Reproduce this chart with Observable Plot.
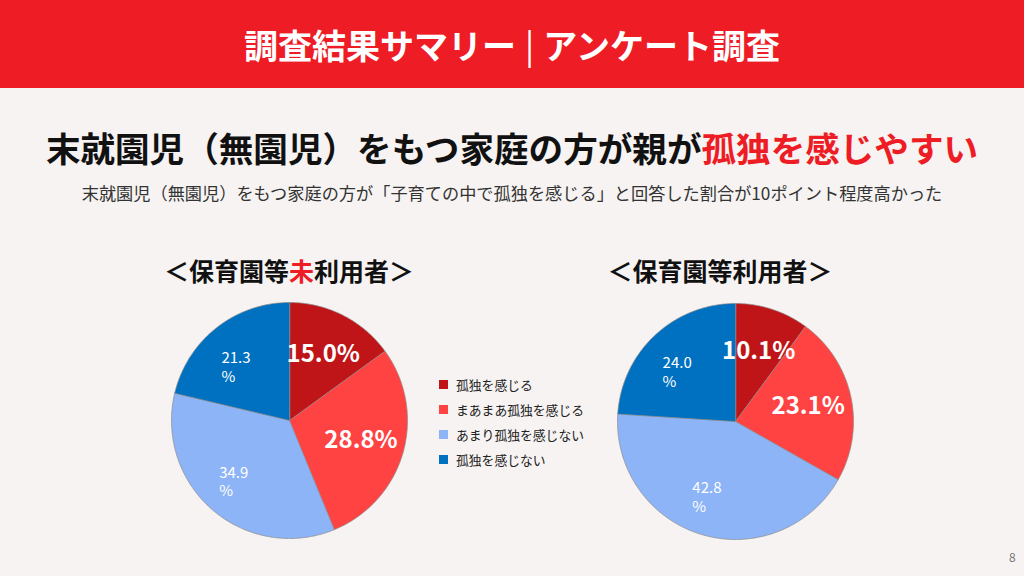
<!DOCTYPE html>
<html lang="ja">
<head>
<meta charset="utf-8">
<script src="https://cdn.jsdelivr.net/npm/d3@7"></script>
<script src="https://cdn.jsdelivr.net/npm/@observablehq/plot@0.6"></script>
<style>
  html, body { margin: 0; padding: 0; }
  body { width: 1024px; height: 576px; background: #F6F3F2; position: relative; overflow: hidden;
         font-family: "Noto Sans CJK JP", "Noto Sans", sans-serif; }
  #header { position: absolute; left: 0; top: 0; width: 1024px; height: 88px; background: #EE1C25;
            color: #fff; font-weight: bold; font-size: 34px; display: flex; align-items: center; justify-content: center; }
  #header .bar { font-weight: normal; margin: 0 9px; }
  #title { position: absolute; left: 0; top: 124px; width: 1024px; text-align: center; font-weight: bold;
           font-size: 34.6px; color: #111; line-height: 46px; }
  #title .red { color: #EE1C25; }
  #subtitle { position: absolute; left: 0; top: 181px; width: 1024px; text-align: center; font-size: 17.2px; color: #333; line-height: 24px; }
  .ptitle { position: absolute; top: 252px; font-weight: bold; font-size: 25px; color: #111; line-height: 36px; text-align: center; width: 320px; }
  .ptitle .red { color: #EE1C25; }
  .pie { position: absolute; }
  #legend { position: absolute; left: 439px; top: 372px; font-size: 12.8px; color: #222; }
  #legend .row { height: 25px; display: flex; align-items: center; }
  #legend .sw { width: 9px; height: 9px; margin-right: 8px; }
  #page { position: absolute; left: 1009px; top: 548px; font-size: 12px; color: #777; }
</style>
</head>
<body>
<div id="header">調査結果サマリー<span class="bar">|</span>アンケート調査</div>
<div id="title">末就園児（無園児）をもつ家庭の方が親が<span class="red">孤独を感じやすい</span></div>
<div id="subtitle">末就園児（無園児）をもつ家庭の方が「子育ての中で孤独を感じる」と回答した割合が10ポイント程度高かった</div>
<div class="ptitle" style="left:129px">＜保育園等<span class="red">未</span>利用者＞</div>
<div class="ptitle" style="left:560px">＜保育園等利用者＞</div>
<div id="pieL" class="pie" style="left:169px; top:300px"></div>
<div id="pieR" class="pie" style="left:615px; top:301px"></div>
<div id="legend"></div>
<div id="page">8</div>
<script>
const categories = ["孤独を感じる", "まあまあ孤独を感じる", "あまり孤独を感じない", "孤独を感じない"];
const unusedValues = [15.0, 28.8, 34.9, 21.3];
const usedValues = [10.1, 23.1, 42.8, 24.0];
const colors = ["#BF1518", "#FF4343", "#8DB4F6", "#0070C0"];

function pieData(values) {
  const arcs = d3.pie().sort(null).value(d => d)(values);
  const rows = [];
  const labels = [];
  arcs.forEach((a, i) => {
    const cat = categories[i];
    rows.push({cat, x: 0, y: 0});
    const n = Math.max(2, Math.ceil((a.endAngle - a.startAngle) / 0.01));
    for (let j = 0; j <= n; j++) {
      const t = a.startAngle + (a.endAngle - a.startAngle) * j / n;
      rows.push({cat, x: Math.sin(t), y: Math.cos(t)});
    }
    const mid = (a.startAngle + a.endAngle) / 2;
    labels.push({cat, i, x: 0.63 * Math.sin(mid), y: 0.63 * Math.cos(mid), value: values[i]});
  });
  return {rows, labels};
}

function drawPie(values) {
  const {rows, labels} = pieData(values);
  const big = labels.filter(d => d.i < 2);
  const small = labels.filter(d => d.i >= 2);
  return Plot.plot({
    width: 240, height: 240, margin: 2,
    x: {domain: [-1, 1], axis: null},
    y: {domain: [-1, 1], axis: null},
    color: {domain: categories, range: colors},
    style: {background: "transparent", fontFamily: "'Noto Sans CJK JP', 'Noto Sans', sans-serif", overflow: "visible"},
    marks: [
      Plot.line(rows, {x: "x", y: "y", z: "cat", fill: "cat", stroke: "#8a8a8a", strokeWidth: 0.7, curve: "linear-closed"}),
      Plot.text(big, {x: "x", y: "y", text: d => d.value.toFixed(1) + "%", fill: "white", fontSize: 24, fontWeight: "bold"}),
      Plot.text(small, {x: "x", y: "y", text: d => d.value.toFixed(1) + "\n%", fill: "white", fontSize: 15, lineHeight: 1.25, textAnchor: "start", dx: -22, dy: 4})
    ]
  });
}

document.getElementById("pieL").appendChild(drawPie(unusedValues));
document.getElementById("pieR").appendChild(drawPie(usedValues));

const legend = document.getElementById("legend");
categories.forEach((c, i) => {
  const row = document.createElement("div");
  row.className = "row";
  const sw = document.createElement("div");
  sw.className = "sw";
  sw.style.background = colors[i];
  const tx = document.createElement("span");
  tx.textContent = c;
  row.appendChild(sw);
  row.appendChild(tx);
  legend.appendChild(row);
});
</script>
</body>
</html>
